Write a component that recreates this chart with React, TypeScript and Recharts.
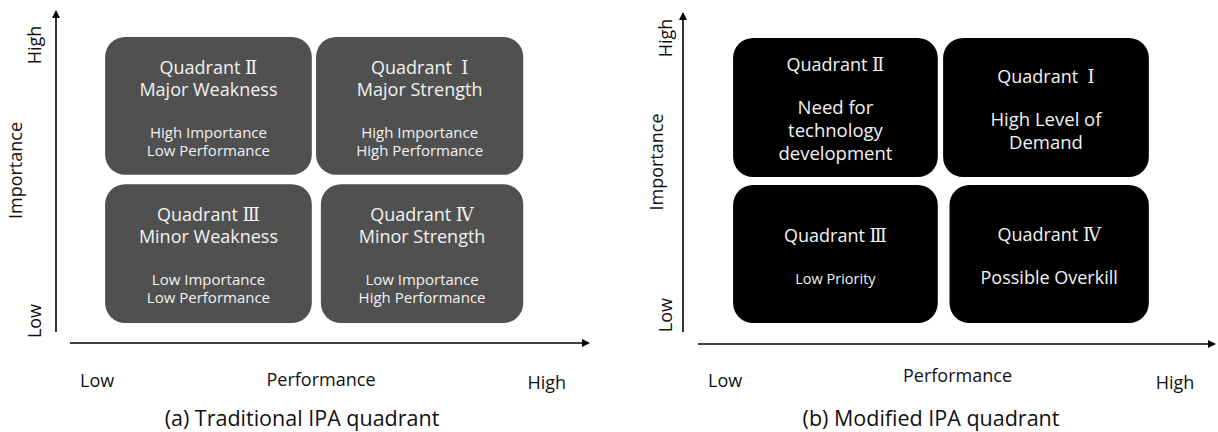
import React from "react";
import {
  ComposedChart,
  XAxis,
  YAxis,
  ReferenceArea,
  ReferenceLine,
  Rectangle,
} from "recharts";

// quadrant order: II, I, III, IV
const quadrantNames = ["Quadrant Ⅱ", "Quadrant  Ⅰ", "Quadrant Ⅲ", "Quadrant Ⅳ"];

const tradTitles = [["Major Weakness"], ["Major Strength"], ["Minor Weakness"], ["Minor Strength"]];
const tradNotes = [
  ["High Importance", "Low Performance"],
  ["High Importance", "High Performance"],
  ["Low Importance", "Low Performance"],
  ["Low Importance", "High Performance"],
];
const modNotes = [["Need for", "technology", "development"], ["High Level of", "Demand"], ["Low Priority"], ["Possible Overkill"]];

// extents on a 0-100 performance / importance scale
const tradPerf = [[9.2, 47.9], [48.7, 87.5], [9.2, 47.9], [49.6, 87.5]];
const tradImp = [[50.5, 91.9], [50.5, 91.9], [6.0, 47.7], [6.0, 47.7]];
const modPerf = [[9.4, 47.8], [48.8, 87.4], [9.4, 47.8], [50.0, 87.4]];
const modImp = [[50.3, 92.2], [50.3, 92.2], [6.3, 47.9], [6.3, 47.9]];

const levelLabels = ["Low", "High"];
const tradPerfTicks = [7.7, 91.9];
const tradImpTicks = [6.6, 89.5];
const modPerfTicks = [7.9, 92.3];
const modImpTicks = [8.7, 92.2];

// where each drawn axis arrow starts
const tradAxisStart = { perf: 2.6, imp: 3.3 };
const modAxisStart = { perf: 2.8, imp: 3.6 };

const captions = ["(a) Traditional IPA quadrant", "(b) Modified IPA quadrant"];

const FONT = '"Open Sans", "Noto Sans CJK KR", sans-serif';
const NUM_FONT = '"DejaVu Serif", "Noto Sans CJK KR", serif';
const CAP_FONT = '"Open Sans", sans-serif';
const H = 395;

function ArrowLine(p: any) {
  const { x1, y1, x2, y2 } = p;
  const dx = x2 - x1;
  const dy = y2 - y1;
  const len = Math.hypot(dx, dy) || 1;
  const ux = dx / len;
  const uy = dy / len;
  const L = 8;
  const W = 4;
  const bx = x2 - ux * L;
  const by = y2 - uy * L;
  const pts = `${x2},${y2} ${bx - uy * W},${by + ux * W} ${bx + uy * W},${by - ux * W}`;
  return (
    <g>
      <line x1={x1} y1={y1} x2={bx + ux} y2={by + uy} stroke="#000" strokeWidth={1.6} />
      <polygon points={pts} fill="#000" />
    </g>
  );
}

// "Quadrant Ⅱ" -> word in sans, numeral in a serif face
function Line({ t }: { t: string }) {
  const m = t.match(/^(Quadrant\s+)([ⅠⅡⅢⅣ])$/);
  if (!m) return <>{t}</>;
  return (
    <>
      <tspan>{m[1]}</tspan>
      <tspan fontFamily={NUM_FONT}>{m[2]}</tspan>
    </>
  );
}

function QuadLabel(props: any) {
  const { viewBox, head, body, bodySize } = props;
  const { x, y, width, height } = viewBox;
  const cx = x + width / 2;
  const headLh = 22;
  const bodyLh = bodySize >= 17 ? 23 : 18;
  const gap = 43;
  const total = (head.length - 1) * headLh + gap + (body.length - 1) * bodyLh;
  const top = y + height / 2 + 2 - (total + 9 + bodySize / 2) / 2 + 9;
  const rows: any[] = [];
  head.forEach((t: string, i: number) => rows.push({ t, c: top + i * headLh, s: 18 }));
  const b0 = top + (head.length - 1) * headLh + gap;
  body.forEach((t: string, i: number) => rows.push({ t, c: b0 + i * bodyLh, s: bodySize }));
  return (
    <g>
      {rows.map((r, i) => (
        <text
          key={i}
          x={cx}
          y={r.c + r.s * 0.36}
          textAnchor="middle"
          fill="#f2f2f2"
          fontFamily={FONT}
          fontSize={r.s}
          style={{ whiteSpace: "pre" }}
        >
          <Line t={r.t} />
        </text>
      ))}
    </g>
  );
}

function XTick(props: any) {
  const { x, y, index, base } = props;
  return (
    <text x={x} y={y + base + (index === 1 ? 2 : 0)} textAnchor="middle" fill="#111" fontFamily={FONT} fontSize={18}>
      {levelLabels[index]}
    </text>
  );
}

function YTick(props: any) {
  const { x, y, index, off } = props;
  const px = x - off;
  return (
    <text
      x={px}
      y={y}
      transform={`rotate(-90, ${px}, ${y})`}
      textAnchor="middle"
      fill="#111"
      fontFamily={FONT}
      fontSize={18}
    >
      {levelLabels[index]}
    </text>
  );
}

function XTitle(props: any) {
  const { viewBox, base, dx } = props;
  return (
    <text x={viewBox.x + viewBox.width / 2 + dx} y={viewBox.y + base} textAnchor="middle" fill="#111" fontFamily={FONT} fontSize={18}>
      Performance
    </text>
  );
}

function YTitle(props: any) {
  const { viewBox, bx, dy } = props;
  const px = viewBox.x + bx;
  const py = viewBox.y + viewBox.height / 2 + dy;
  return (
    <text x={px} y={py} transform={`rotate(-90, ${px}, ${py})`} textAnchor="middle" fill="#111" fontFamily={FONT} fontSize={18}>
      Importance
    </text>
  );
}

function Panel(props: any) {
  const { cfg, perf, imp, heads, bodies, bodySizes, perfTicks, impTicks, start, fill } = props;
  return (
    <div style={{ position: "absolute", left: cfg.left, top: 0 }}>
      <ComposedChart width={cfg.width} height={H} margin={cfg.margin} data={[]}>
        <XAxis
          type="number"
          dataKey="x"
          domain={[0, 100]}
          allowDataOverflow
          ticks={perfTicks}
          interval={0}
          axisLine={false}
          tickLine={false}
          tickSize={0}
          tickMargin={0}
          height={cfg.xh}
          tick={<XTick base={cfg.tickBase} />}
          label={<XTitle base={cfg.titleBase} dx={cfg.titleDx} />}
        />
        <YAxis
          type="number"
          dataKey="y"
          domain={[0, 100]}
          allowDataOverflow
          ticks={impTicks}
          interval={0}
          axisLine={false}
          tickLine={false}
          tickSize={0}
          tickMargin={0}
          width={cfg.yw}
          tick={<YTick off={cfg.tickOff} />}
          label={<YTitle bx={cfg.yTitleX} dy={cfg.yTitleDy} />}
        />
        {perf.map((p: number[], i: number) => (
          <ReferenceArea
            key={i}
            x1={p[0]}
            x2={p[1]}
            y1={imp[i][0]}
            y2={imp[i][1]}
            fill={fill}
            fillOpacity={1}
            stroke="none"
            ifOverflow="visible"
            shape={(s: any) => <Rectangle {...s} radius={cfg.radius} />}
            label={<QuadLabel head={heads[i]} body={bodies[i]} bodySize={bodySizes[i]} />}
          />
        ))}
        <ReferenceLine
          segment={[{ x: 0, y: start.imp }, { x: 0, y: 100 }]}
          ifOverflow="visible"
          shape={ArrowLine}
        />
        <ReferenceLine
          segment={[{ x: start.perf, y: 0 }, { x: 100, y: 0 }]}
          ifOverflow="visible"
          shape={ArrowLine}
        />
      </ComposedChart>
    </div>
  );
}

const cfgA = {
  left: 0,
  width: 609,
  margin: { top: 10, right: 19, left: 0, bottom: 0 },
  xh: 52,
  yw: 56,
  tickBase: 44,
  titleBase: 43,
  titleDx: -2,
  tickOff: 15,
  yTitleX: 22,
  yTitleDy: -6,
  radius: 20,
};

const cfgB = {
  left: 620,
  width: 598,
  margin: { top: 12, right: 2, left: 0, bottom: 0 },
  xh: 51,
  yw: 63,
  tickBase: 43,
  titleBase: 38,
  titleDx: 8,
  tickOff: 11,
  yTitleX: 43,
  yTitleDy: -16,
  radius: 20,
};

export default function App() {
  return (
    <div style={{ position: "absolute", left: 0, top: 0, width: 1218, height: 432, background: "#fff", overflow: "hidden" }}>
      <Panel
        cfg={cfgA}
        perf={tradPerf}
        imp={tradImp}
        heads={quadrantNames.map((q, i) => [q, ...tradTitles[i]])}
        bodies={tradNotes}
        bodySizes={[15, 15, 15, 15]}
        perfTicks={tradPerfTicks}
        impTicks={tradImpTicks}
        start={tradAxisStart}
        fill="#505050"
      />
      <Panel
        cfg={cfgB}
        perf={modPerf}
        imp={modImp}
        heads={quadrantNames.map((q) => [q])}
        bodies={modNotes}
        bodySizes={[18.5, 18.5, 14.5, 18]}
        perfTicks={modPerfTicks}
        impTicks={modImpTicks}
        start={modAxisStart}
        fill="#000000"
      />
      {captions.map((c, i) => (
        <div
          key={i}
          style={{
            position: "absolute",
            left: i === 0 ? 102 : 731,
            width: 400,
            top: 404,
            textAlign: "center",
            fontFamily: CAP_FONT,
            fontSize: 21.5,
            lineHeight: "28px",
            color: "#111",
          }}
        >
          {c}
        </div>
      ))}
    </div>
  );
}
